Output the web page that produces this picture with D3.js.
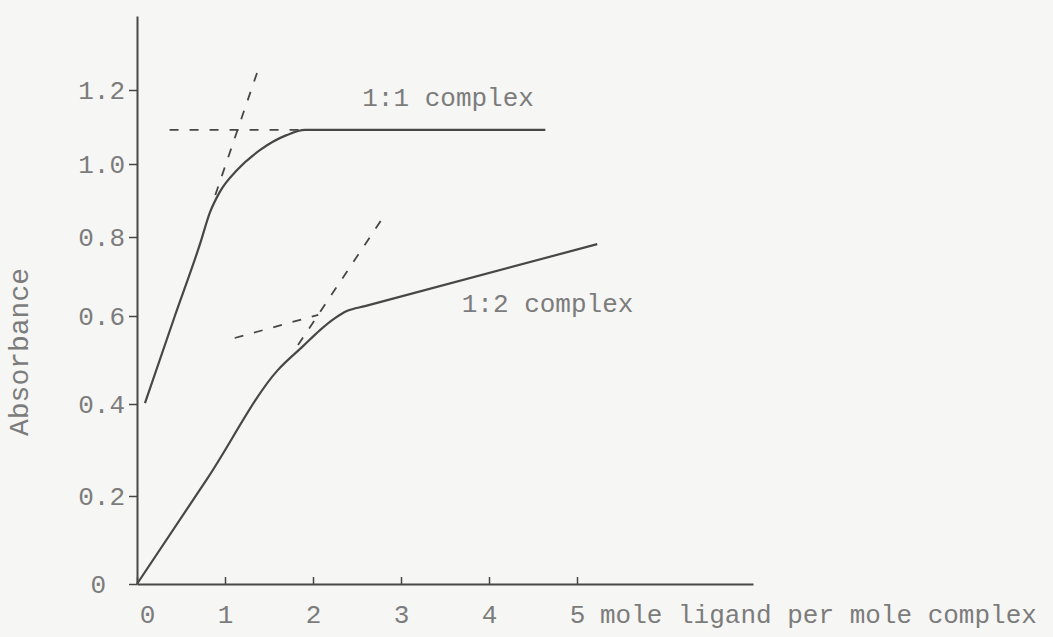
<!DOCTYPE html>
<html>
<head>
<meta charset="utf-8">
<script src="https://cdn.jsdelivr.net/npm/d3@7"></script>
<style>
  body { margin: 0; background: #f6f6f4; }
  svg { display: block; }
</style>
</head>
<body>
<div id="graph-container"></div>
<script>
// tick values as typed on the axes
var xTicks = [0, 1, 2, 3, 4, 5];
var yTicks = [0, 0.2, 0.4, 0.6, 0.8, 1.0, 1.2];

// 1:1 complex, mole ligand per mole complex vs absorbance
var complex11 = [
    [0.09, 0.402], [0.43, 0.600], [0.72, 0.785], [0.83, 0.868], [0.94, 0.923],
    [1.14, 0.984], [1.40, 1.038], [1.70, 1.078], [1.91, 1.092], [4.64, 1.092]
];
// 1:2 complex
var complex12 = [
    [0, 0], [0.81, 0.241], [1.60, 0.477], [1.89, 0.532], [2.08, 0.568],
    [2.25, 0.595], [2.39, 0.613], [2.59, 0.625], [5.23, 0.782]
];
// extrapolated tangents (dashed)
var tangents11 = [
    [[0.37, 1.092], [1.90, 1.092]],
    [[0.89, 0.915], [1.375, 1.254]]
];
var tangents12 = [
    [[1.11, 0.55], [2.06, 0.603]],
    [[1.83, 0.534], [2.83, 0.866]]
];
var curveNames = ["1:1 complex", "1:2 complex"];
var curveNameAt = [[2.56, 1.157], [3.69, 0.61]];

var width = 1053
var height = 637
var fontFamily = "'Liberation Mono', 'Courier New', monospace"
var textColor = "#7c7c7c"
var lineColor = "#474747"

var svg = d3.select("#graph-container")
    .append("svg")
    .attr("width", width)
    .attr("height", height);

// the hand drawn axis is not quite even, so the y scale is piecewise
var x = d3.scaleLinear().domain([0, 7]).range([137, 753]);
var y = d3.scaleLinear()
    .domain([0, 0.2, 0.4, 0.6, 0.8, 1.0, 1.2, 1.4])
    .range([584, 496, 404, 316, 237, 164, 90, 16]);

var yAxis = svg.append("g")
    .attr("transform", "translate(" + x(0) + ",0)")
    .call(d3.axisLeft(y)
        .tickValues(yTicks)
        .tickSizeInner(8)
        .tickSizeOuter(0)
        .tickPadding(4)
        .tickFormat(d => d === 0 ? "0" : d.toFixed(1)));

var xAxis = svg.append("g")
    .attr("transform", "translate(0," + y(0) + ")")
    .call(d3.axisBottom(x)
        .tickValues(xTicks)
        .tickSizeInner(-7)
        .tickSizeOuter(0)
        .tickPadding(21)
        .tickFormat(d3.format("d")));

[xAxis, yAxis].forEach(function (g) {
    g.select(".domain").attr("stroke", lineColor).attr("stroke-width", 2);
    g.selectAll(".tick line").attr("stroke", lineColor).attr("stroke-width", 1.5);
    g.selectAll(".tick text")
        .attr("fill", textColor)
        .style("font-family", fontFamily)
        .style("font-size", "26px");
});
// the typed zeros sit a little off the other labels
yAxis.selectAll(".tick text").filter(d => d === 0).attr("x", -31);
xAxis.selectAll(".tick text").filter(d => d === 0).attr("x", 10);

// axis titles
svg.append("text")
    .attr("transform", "translate(28,352) rotate(-90)")
    .attr("text-anchor", "middle")
    .attr("fill", textColor)
    .style("font-family", fontFamily)
    .style("font-size", "28px")
    .text("Absorbance");

svg.append("text")
    .attr("x", x(5) + 23)
    .attr("y", y(0) + 39)
    .attr("fill", textColor)
    .style("font-family", fontFamily)
    .style("font-size", "26px")
    .text("mole ligand per mole complex");

var curve = d3.line()
    .x(d => x(d[0]))
    .y(d => y(d[1]))
    .curve(d3.curveMonotoneX);
var straight = d3.line()
    .x(d => x(d[0]))
    .y(d => y(d[1]));

// dashed tangent lines
svg.selectAll(".tangent")
    .data(tangents11.concat(tangents12))
    .join("path")
    .attr("class", "tangent")
    .attr("d", straight)
    .attr("fill", "none")
    .attr("stroke", lineColor)
    .attr("stroke-width", 1.8)
    .attr("stroke-dasharray", "9,11");

// the two titration curves
svg.selectAll(".complex")
    .data([complex11, complex12])
    .join("path")
    .attr("class", "complex")
    .attr("d", curve)
    .attr("fill", "none")
    .attr("stroke", lineColor)
    .attr("stroke-width", 2.2);

svg.selectAll(".curve-name")
    .data(curveNames)
    .join("text")
    .attr("class", "curve-name")
    .attr("x", (d, i) => x(curveNameAt[i][0]))
    .attr("y", (d, i) => y(curveNameAt[i][1]))
    .attr("fill", textColor)
    .style("font-family", fontFamily)
    .style("font-size", "26px")
    .text(d => d);
</script>
</body>
</html>
